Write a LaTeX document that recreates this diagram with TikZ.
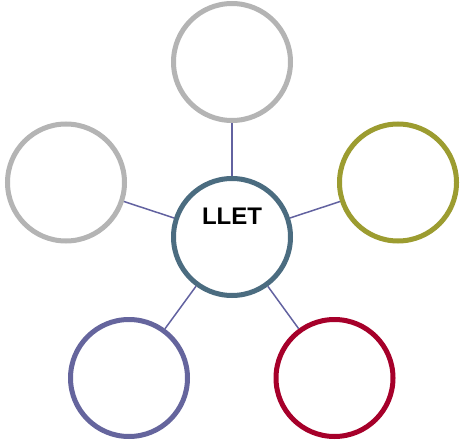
\documentclass[tikz,border=0pt]{standalone}
\usepackage{fontspec}
\setmainfont{Liberation Sans}
\usepackage{tikz}
\definecolor{hubcol}{HTML}{4B6C80}
\definecolor{greycol}{HTML}{B4B4B4}
\definecolor{olivecol}{HTML}{9C9C30}
\definecolor{redcol}{HTML}{A6002A}
\definecolor{violetcol}{HTML}{65659D}
\definecolor{linkcol}{HTML}{6262A0}

\begin{document}
\begin{tikzpicture}[x=1pt,y=-1pt]
\tikzstyle{every node}+=[inner sep=0pt]
\tikzstyle{bubble}=[circle,draw,line width=5pt,minimum size=117pt,fill=white]
\tikzstyle{link}=[draw=linkcol,line width=1.5pt]
\useasboundingbox (0,0) rectangle (460,441);
\node [bubble,draw=hubcol] (hub) at (232,237) {};
\node [font=\bfseries\fontsize{24}{28}\selectfont] (title) at (232,216) {LLET};
\node [bubble,draw=greycol] (top) at (232,62) {};
\node [bubble,draw=greycol] (left) at (66,182.5) {};
\node [bubble,draw=olivecol] (right) at (398,182.5) {};
\node [bubble,draw=violetcol] (botleft) at (129,378) {};
\node [bubble,draw=redcol] (botright) at (334.5,378) {};
\draw [link] (hub) -- (top);
\draw [link] (hub) -- (left);
\draw [link] (hub) -- (right);
\draw [link] (hub) -- (botleft);
\draw [link] (hub) -- (botright);
\end{tikzpicture}
\end{document}
